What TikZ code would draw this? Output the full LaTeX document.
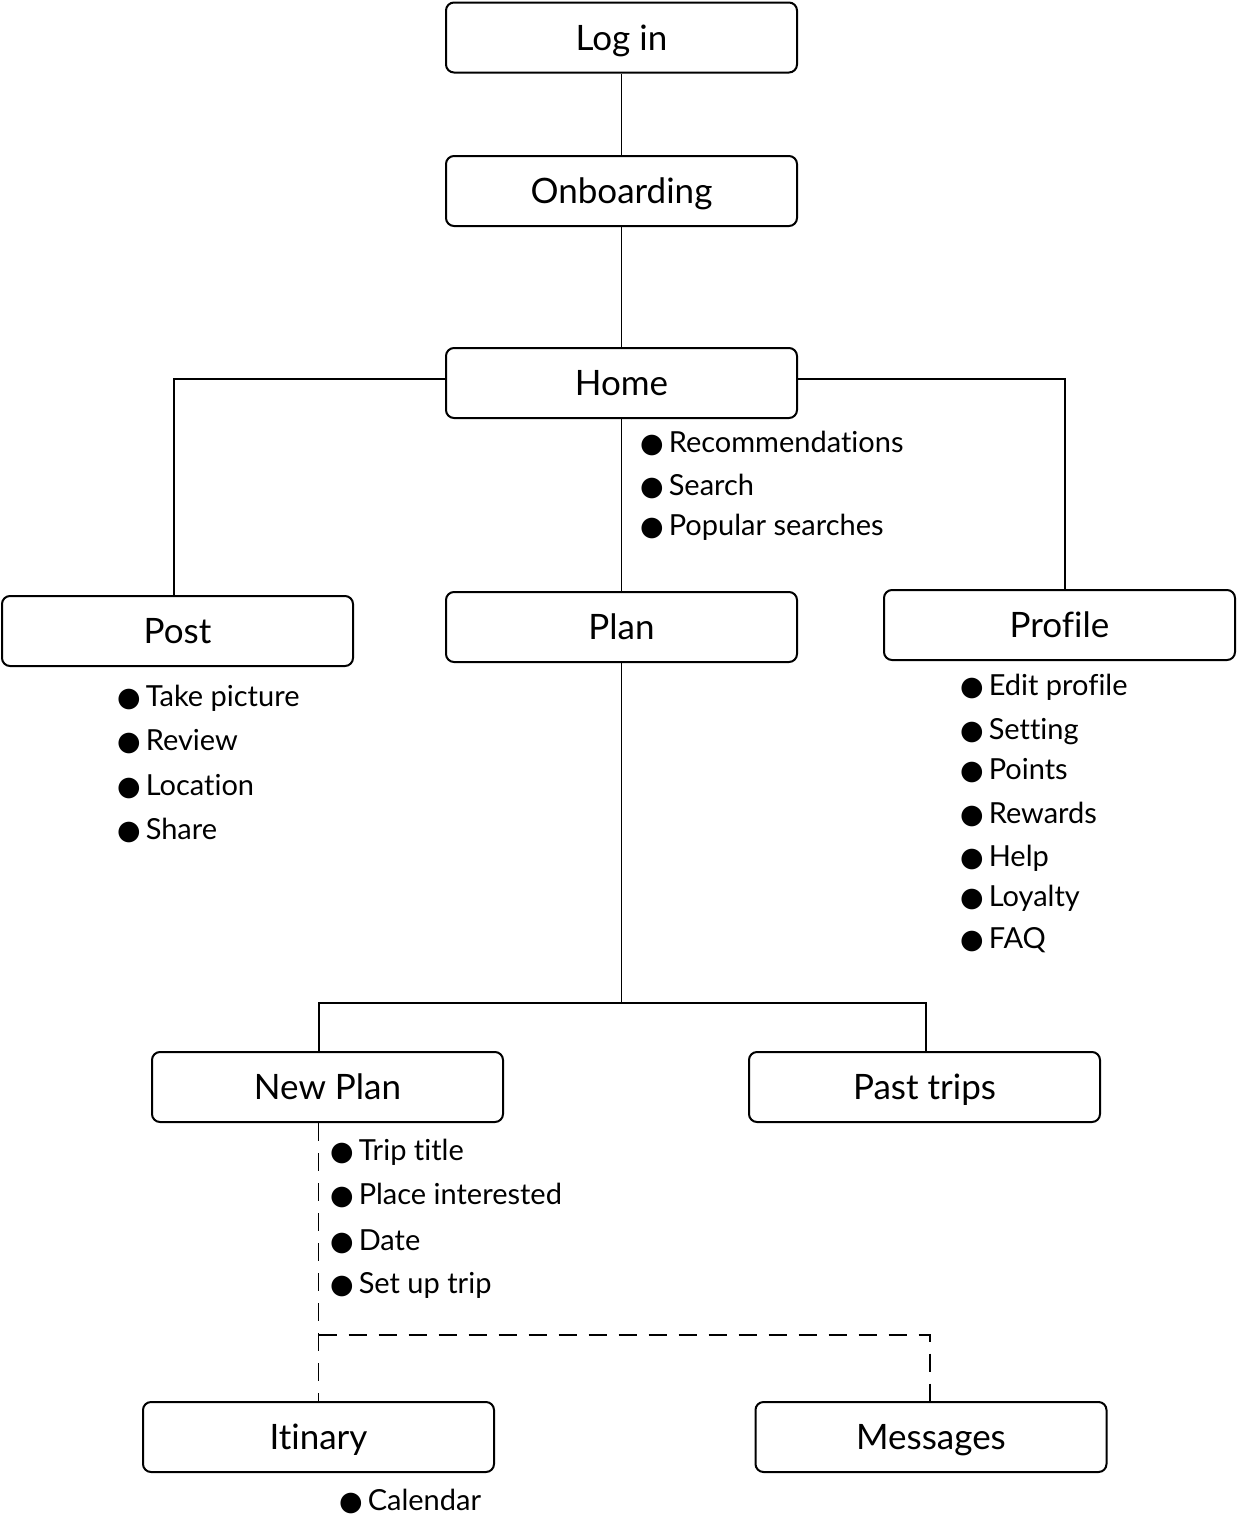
\documentclass[tikz,border=0pt]{standalone}
\usepackage{fontspec}
\setmainfont{Lato}[Ligatures={NoCommon}]
\newfontfamily\dejavu{DejaVu Sans}
\newcommand{\bulletmark}{{\dejavu\fontsize{27pt}{27pt}\selectfont ●}\hspace{5pt}}
\begin{document}
\begin{tikzpicture}[x=1pt,y=-1pt,
  box/.style={draw, line width=2pt, rounded corners=8pt, minimum width=351pt, minimum height=70pt,
    inner sep=0pt, font=\fontsize{35pt}{35pt}\selectfont, text height=25pt, text depth=0pt},
  item/.style={anchor=west, inner sep=0pt, font=\fontsize{29pt}{29pt}\selectfont, text height=21pt, text depth=0pt},
  conn/.style={line width=1.9pt},
  dconn/.style={line width=1.9pt, dash pattern=on 18pt off 12pt}]
\useasboundingbox (0,0) rectangle (1237,1519);
\node[box] (login) at (621.5,37.5) {Log in};
\node[box] (onb) at (621.5,191) {Onboarding};
\node[box] (home) at (621.5,383) {Home};
\node[box] (post) at (177.5,631) {Post};
\node[box] (plan) at (621.5,627) {Plan};
\node[box] (profile) at (1059.5,625) {Profile};
\node[box] (np) at (327.5,1087) {New Plan};
\node[box] (past) at (924.5,1087) {Past trips};
\node[box] (itin) at (318.5,1437) {Itinary};
\node[box] (msg) at (931,1437) {Messages};
\coordinate (j) at (621.5,1003);
\coordinate (dj) at (318.5,1335);
% connectors
\draw[conn] (login) -- (onb);
\draw[conn] (onb) -- (home);
\draw[conn] (home) -- (plan);
\draw[conn] ([yshift=4pt]home.west) -| ([xshift=-3.5pt]post.north);
\draw[conn] ([yshift=4pt]home.east) -| ([xshift=5.5pt]profile.north);
\draw[conn] (plan) -- (j);
\draw[conn] (j) -| ([xshift=-8.5pt]np.north);
\draw[conn] (j) -| ([xshift=1.5pt]past.north);
\draw[dconn] (itin.north |- np.south) -- (itin.north);
\draw[dconn] (dj) -| ([xshift=-1pt]msg.north);
% lists
\node[item] (h1) at (640,442) {\bulletmark Recommendations};
\node[item] (h2) at (640,485) {\bulletmark Search};
\node[item] (h3) at (640,525) {\bulletmark Popular searches};
\node[item] (p1) at (117,696) {\bulletmark Take picture};
\node[item] (p2) at (117,740) {\bulletmark Review};
\node[item] (p3) at (117,785) {\bulletmark Location};
\node[item] (p4) at (117,829) {\bulletmark Share};
\node[item] (r1) at (960,685) {\bulletmark Edit profile};
\node[item] (r2) at (960,729) {\bulletmark Setting};
\node[item] (r3) at (960,769) {\bulletmark Points};
\node[item] (r4) at (960,813) {\bulletmark Rewards};
\node[item] (r5) at (960,856) {\bulletmark Help};
\node[item] (r6) at (960,896) {\bulletmark Loyalty};
\node[item] (r7) at (960,938) {\bulletmark FAQ};
\node[item] (n1) at (330,1150) {\bulletmark Trip title};
\node[item] (n2) at (330,1194) {\bulletmark Place interested};
\node[item] (n3) at (330,1240) {\bulletmark Date};
\node[item] (n4) at (330,1283) {\bulletmark Set up trip};
\node[item] (c1) at (339,1500) {\bulletmark Calendar};
\end{tikzpicture}
\end{document}
